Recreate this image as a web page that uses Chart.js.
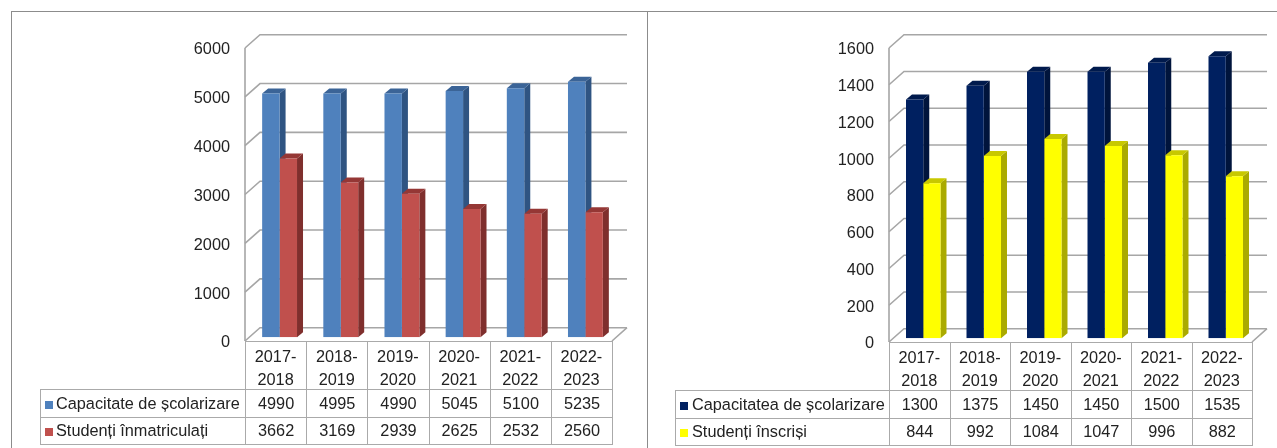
<!DOCTYPE html>
<html>
<head>
<meta charset="utf-8">
<script src="https://cdn.jsdelivr.net/npm/chart.js@4"></script>
<style>
  html, body { margin: 0; padding: 0; background: #fff; overflow: hidden; }
  body { width: 1277px; height: 448px; position: relative; font-family: "Liberation Sans", Arial, sans-serif; color: #222; }
  canvas { position: absolute; top: 0; }
  .frame { position: absolute; background: #8c8c8c; }
  table { position: absolute; border-collapse: collapse; table-layout: fixed; font-size: 16.3px; }
  td { border: 1.5px solid #aaa; padding: 0; text-align: center; white-space: nowrap; overflow: hidden; }
  td.blank { border-top: none; border-left: none; border-bottom: 1.5px solid #aaa; }
  td.name { text-align: left; }
  .swatch { display: inline-block; width: 8px; height: 8px; margin: 0 3px 0 4px; }
  #right-table .swatch { margin: 0 4px 0 4px; }
</style>
</head>
<body>
<div class="frame" style="left:11px;top:11px;width:1266px;height:1px"></div>
<div class="frame" style="left:11px;top:11px;width:1px;height:437px"></div>
<div class="frame" style="left:647px;top:11px;width:1px;height:437px"></div>

<canvas id="left-chart" width="647" height="448" style="left:0"></canvas>
<canvas id="right-chart" width="629" height="448" style="left:648px"></canvas>
<table id="left-table" style="left:40px;top:341px"></table>
<table id="right-table" style="left:675px;top:342px"></table>

<script>
const categories = [
  ["2017-", "2018"],
  ["2018-", "2019"],
  ["2019-", "2020"],
  ["2020-", "2021"],
  ["2021-", "2022"],
  ["2022-", "2023"],
];

const capacitate = [4990, 4995, 4990, 5045, 5100, 5235];
const inmatriculati = [3662, 3169, 2939, 2625, 2532, 2560];
const capacitatea = [1300, 1375, 1450, 1450, 1500, 1535];
const inscrisi = [844, 992, 1084, 1047, 996, 882];

const GRID = "#a6a6a6";

// pereti si fete laterale, graficul e 2D asa ca 3D-ul se deseneaza aici
const fake3d = {
  id: "fake3d",
  beforeDatasetsDraw(chart) {
    const ctx = chart.ctx;
    const { x, y } = chart.scales;
    const dx = 15, dy = 13.3;
    const left = x.left, right = x.right;

    ctx.save();
    // etichetele ies cu 2px mai sus decat in original, deci planul urca
    ctx.translate(0, -2);
    ctx.strokeStyle = GRID;
    ctx.lineWidth = 1.6;
    y.ticks.forEach((t) => {
      const py = y.getPixelForValue(t.value);
      ctx.beginPath();
      ctx.moveTo(left, py);
      ctx.lineTo(left + dx, py - dy);
      ctx.lineTo(right + dx, py - dy);
      ctx.stroke();
    });
    ctx.beginPath();
    ctx.moveTo(left, y.top);
    ctx.lineTo(left, y.bottom);
    ctx.moveTo(right + dx, y.bottom - dy);
    ctx.lineTo(right, y.bottom);
    ctx.stroke();

    // bara sta putin in spatele planului din fata
    ctx.translate(4, -3.7);
    chart.data.datasets.forEach((ds, i) => {
      chart.getDatasetMeta(i).data.forEach((bar) => {
        const r = bar.x + bar.width / 2;
        const l = bar.x - bar.width / 2;
        const sx = 6, sy = 5;
        ctx.fillStyle = ds.sideColor;
        ctx.beginPath();
        ctx.moveTo(r, bar.y);
        ctx.lineTo(r + sx, bar.y - sy);
        ctx.lineTo(r + sx, bar.base - sy);
        ctx.lineTo(r, bar.base);
        ctx.closePath();
        ctx.fill();
        ctx.fillStyle = ds.topColor;
        ctx.beginPath();
        ctx.moveTo(l, bar.y);
        ctx.lineTo(l + sx, bar.y - sy);
        ctx.lineTo(r + sx, bar.y - sy);
        ctx.lineTo(r, bar.y);
        ctx.closePath();
        ctx.fill();
      });
    });
    ctx.restore();

    ctx.save();
    ctx.translate(4, -5.7);
  },
  afterDatasetsDraw(chart) {
    chart.ctx.restore();
  },
};

function makeChart(id, series, yMax, yStep, pad) {
  return new Chart(document.getElementById(id), {
    type: "bar",
    data: { labels: categories, datasets: series },
    plugins: [fake3d],
    options: {
      responsive: false,
      animation: false,
      layout: { padding: pad },
      plugins: { legend: { display: false }, tooltip: { enabled: false } },
      datasets: { bar: { categoryPercentage: 0.57, barPercentage: 1 } },
      scales: {
        x: {
          afterFit: (s) => { s.height = 50; },
          grid: { display: false, drawTicks: false },
          border: { display: false },
          ticks: {
            color: "#222",
            maxRotation: 0,
            autoSkip: false,
            padding: 3,
            font: { family: "Liberation Sans", size: 16.3, lineHeight: 1.42 },
          },
        },
        y: {
          min: 0,
          max: yMax,
          afterFit: (s) => { s.width = 70; },
          grid: { display: false, drawTicks: false },
          border: { display: false },
          ticks: {
            stepSize: yStep,
            color: "#222",
            padding: 15,
            font: { family: "Liberation Sans", size: 16.3 },
            callback: (value) => String(value),
          },
        },
      },
    },
  });
}

function makeTable(id, rows, nameWidth, colWidth, catHeight, rowHeights) {
  const table = document.getElementById(id);
  let html = "<colgroup><col style='width:" + nameWidth + "px'>";
  categories.forEach(() => { html += "<col style='width:" + colWidth + "px'>"; });
  html += "</colgroup><tr style='height:" + catHeight + "px'><td class='blank'></td>";
  categories.forEach(() => { html += "<td></td>"; });
  html += "</tr>";
  rows.forEach((row, i) => {
    html += "<tr style='height:" + rowHeights[i] + "px'><td class='name'><span class='swatch' style='background:" +
      row.color + "'></span>" + row.name + "</td>";
    row.values.forEach((v) => { html += "<td>" + v + "</td>"; });
    html += "</tr>";
  });
  table.innerHTML = html;
}

makeChart("left-chart", [
  { label: "Capacitate de școlarizare", data: capacitate, backgroundColor: "#4f81bd", sideColor: "#2f5482", topColor: "#3b6497" },
  { label: "Studenți înmatriculați", data: inmatriculati, backgroundColor: "#c0504d", sideColor: "#7f2f2d", topColor: "#953735" },
], 6000, 1000, { left: 175, right: 35, top: 50, bottom: 55 });

makeChart("right-chart", [
  { label: "Capacitatea de școlarizare", data: capacitatea, backgroundColor: "#002060", sideColor: "#00143c", topColor: "#001a4d" },
  { label: "Studenți înscriși", data: inscrisi, backgroundColor: "#ffff00", sideColor: "#aaaa00", topColor: "#c8c800" },
], 1600, 200, { left: 171, right: 25, top: 50, bottom: 54 });

makeTable("left-table", [
  { name: "Capacitate de școlarizare", color: "#4f81bd", values: capacitate },
  { name: "Studenți înmatriculați", color: "#c0504d", values: inmatriculati },
], 205, 61.2, 48, [27.5, 27]);

makeTable("right-table", [
  { name: "Capacitatea de școlarizare", color: "#002060", values: capacitatea },
  { name: "Studenți înscriși", color: "#ffff00", values: inscrisi },
], 214, 60.5, 48, [27.5, 27]);
</script>
</body>
</html>
